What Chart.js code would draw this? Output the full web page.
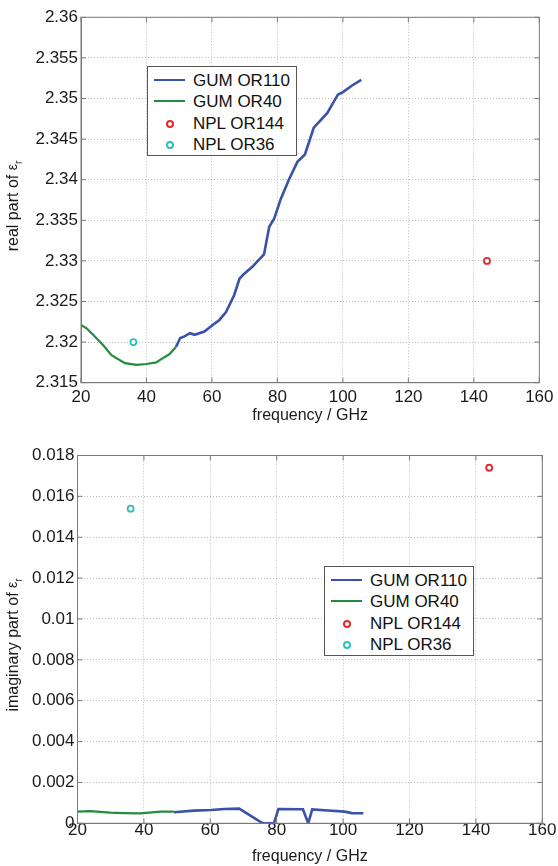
<!DOCTYPE html>
<html>
<head>
<meta charset="utf-8">
<script src="https://cdn.jsdelivr.net/npm/chart.js@4"></script>
<style>
    body { margin: 0; background: #fff; width: 558px; height: 866px; position: relative; overflow: hidden;
           font-family: "Liberation Sans", Arial, sans-serif; }
    .panel { position: absolute; left: 0; width: 558px; }
    .legend { position: absolute; width: 148px; height: 88px; border: 1px solid #555; background: #fff; }
    .row { position: absolute; left: 0; height: 21px; width: 148px; }
    .swatch { position: absolute; left: 6px; width: 31px; top: 9px; }
    .dot { position: absolute; left: 18px; top: 7px; width: 4px; height: 4px; border-radius: 50%; border: 2px solid; }
    .label { position: absolute; left: 45px; top: 0; font-size: 17px; line-height: 21px; color: #111; white-space: nowrap; }
</style>
</head>
<body>

<div class="panel" style="top:0;height:430px"><canvas id="realChart"></canvas></div>
<div class="panel" style="top:430px;height:436px"><canvas id="imagChart"></canvas></div>
<div class="legend" id="realLegend" style="left:147px;top:66px"></div>
<div class="legend" id="imagLegend" style="left:324px;top:566px"></div>

<script>
// ============ DATA ============

const seriesNames = ["GUM OR110", "GUM OR40", "NPL OR144", "NPL OR36"];

// real part (top)
const freqRealOR110 = [49, 50.3, 51.6, 53.3, 54.7, 57.7, 60.2, 62.2, 64.3, 66.8, 68.4, 69.8, 72.4, 75.9,
                       77.5, 79, 81, 83.5, 86.1, 88.4, 91.1, 95.2, 98.5, 99.7, 102.8, 105.6];
const realOR110 = [2.3194, 2.3205, 2.3207, 2.3211, 2.3209, 2.3213, 2.3221, 2.3227, 2.3237, 2.3258, 2.3278, 2.3284, 2.3293, 2.3308,
                   2.3342, 2.3352, 2.3376, 2.3400, 2.3422, 2.3431, 2.3464, 2.3482, 2.3505, 2.3507, 2.3516, 2.3523];
const freqRealOR40 = [20, 21.7, 23.7, 26.8, 29.3, 33.4, 36.9, 40, 43, 44.5, 47, 49];
const realOR40 = [2.3221, 2.3217, 2.3209, 2.3196, 2.3184, 2.3174, 2.3172, 2.3173, 2.3175, 2.3179, 2.3185, 2.3194];
const freqNPL144 = [144];
const realNPL144 = [2.330];
const freqNPL36 = [36];
const realNPL36 = [2.320];

// imaginary part (bottom)
const freqImagOR110 = [49, 55.1, 60.2, 64.2, 68.7, 75.8, 79.2, 80.5, 87.9, 89.5, 90.7, 95.5, 100.5, 102.6, 106.1];
const imagOR110 = [0.00054, 0.00062, 0.00065, 0.0007, 0.00072, 0, 0, 0.0007, 0.00069, 0, 0.00068, 0.00063, 0.00057, 0.0005, 0.00049];
const freqImagOR40 = [20, 23.8, 29.8, 34, 38.9, 45, 49];
const imagOR40 = [0.00057, 0.0006, 0.00052, 0.0005, 0.00049, 0.00057, 0.00057];
const imagNPL144 = [0.0174];
const imagNPL36 = [0.0154];

// axis ticks
const freqTicks = { min: 20, max: 160, step: 20 };
const realTicks = { min: 2.315, max: 2.36, step: 0.005 };
const imagTicks = { min: 0, max: 0.018, step: 0.002 };

// ============ STYLE ============

const FONT = '"Liberation Sans", Arial, sans-serif';
const colors = ["#3a52aa", "#248c3e", "#e8282a", "#2cbfbf"];
Chart.defaults.font.family = FONT;
Chart.defaults.color = "#1a1a1a";

function pts(xs, ys) {
    return xs.map((x, i) => ({ x: x, y: ys[i] }));
}

function makeDatasets(lineA, lineB, ptA, ptB) {
    return [
        { label: seriesNames[0], data: lineA, showLine: true, borderColor: colors[0], borderWidth: 2.6, pointRadius: 0, order: 2 },
        { label: seriesNames[1], data: lineB, showLine: true, borderColor: colors[1], borderWidth: 2.2, pointRadius: 0, order: 1 },
        { label: seriesNames[2], data: ptA, borderColor: colors[2], backgroundColor: "#fff", pointRadius: 3, borderWidth: 1.8 },
        { label: seriesNames[3], data: ptB, borderColor: colors[3], backgroundColor: "#fff", pointRadius: 3, borderWidth: 1.8 }
    ];
}

// box, inward tick marks and axis titles
const framePlugin = {
    id: "frame",
    afterDraw(chart, args, opts) {
        const { ctx, chartArea: a, scales } = chart;
        ctx.save();
        ctx.strokeStyle = "#7a7a7a";
        ctx.lineWidth = 1;
        ctx.strokeRect(a.left, a.top, a.right - a.left, a.bottom - a.top);
        ctx.beginPath();
        scales.x.ticks.forEach(t => {
            const px = scales.x.getPixelForValue(t.value);
            ctx.moveTo(px, a.bottom); ctx.lineTo(px, a.bottom - 5);
            ctx.moveTo(px, a.top); ctx.lineTo(px, a.top + 5);
        });
        scales.y.ticks.forEach(t => {
            const py = scales.y.getPixelForValue(t.value);
            ctx.moveTo(a.left, py); ctx.lineTo(a.left + 5, py);
            ctx.moveTo(a.right, py); ctx.lineTo(a.right - 5, py);
        });
        ctx.stroke();

        // x title
        ctx.fillStyle = "#1a1a1a";
        ctx.font = "16px " + FONT;
        ctx.textAlign = "center";
        ctx.textBaseline = "middle";
        ctx.fillText(opts.xTitle, (a.left + a.right) / 2, a.bottom + 33);

        // y title with epsilon subscript r
        ctx.translate(14, opts.yCenter);
        ctx.rotate(-Math.PI / 2);
        ctx.textAlign = "left";
        const wMain = ctx.measureText(opts.yTitle).width;
        ctx.font = "14px " + FONT;
        const wEps = ctx.measureText("ε").width;
        ctx.font = "10px " + FONT;
        const wR = ctx.measureText("r").width;
        let x0 = -(wMain + wEps + wR) / 2;
        ctx.font = "16px " + FONT;
        ctx.fillText(opts.yTitle, x0, 0);
        ctx.font = "14px " + FONT;
        ctx.fillText("ε", x0 + wMain, -1);
        ctx.font = "10px " + FONT;
        ctx.fillText("r", x0 + wMain + wEps, 5);
        ctx.restore();
    }
};

function makeChart(canvasId, datasets, yRange, cfg) {
    return new Chart(document.getElementById(canvasId), {
        type: "scatter",
        data: { datasets },
        options: {
            responsive: true,
            maintainAspectRatio: false,
            animation: false,
            layout: { padding: cfg.padding },
            plugins: {
                legend: { display: false },
                tooltip: { enabled: false },
                frame: cfg.frame
            },
            elements: { line: { tension: 0 } },
            scales: {
                x: {
                    type: "linear",
                    min: freqTicks.min,
                    max: freqTicks.max,
                    afterFit: s => { s.height = cfg.xHeight; },
                    grid: { color: "#bdbdbd", drawTicks: false },
                    border: { color: "#7a7a7a", dash: [1, 2] },
                    ticks: { stepSize: freqTicks.step, padding: cfg.xPad, autoSkip: false, maxRotation: 0,
                             font: { size: 17 }, color: "#1a1a1a" }
                },
                y: {
                    type: "linear",
                    min: yRange.min,
                    max: yRange.max,
                    afterFit: s => { s.width = cfg.yWidth; },
                    grid: { color: "#bdbdbd", drawTicks: false },
                    border: { color: "#7a7a7a", dash: [1, 2] },
                    ticks: { stepSize: yRange.step, padding: 3, autoSkip: false, font: { size: 17 }, color: "#1a1a1a",
                             callback: v => String(+v.toFixed(4)) }
                }
            }
        },
        plugins: [framePlugin]
    });
}

const realChart = makeChart("realChart",
    makeDatasets(pts(freqRealOR110, realOR110), pts(freqRealOR40, realOR40), pts(freqNPL144, realNPL144), pts(freqNPL36, realNPL36)),
    realTicks,
    { padding: { top: 17.3, right: 16, left: 0, bottom: 0 }, xHeight: 47.3, yWidth: 81, xPad: 4.5,
      frame: { xTitle: "frequency / GHz", yTitle: "real part of ", yCenter: 206 } });

const imagChart = makeChart("imagChart",
    makeDatasets(pts(freqImagOR110, imagOR110), pts(freqImagOR40, imagOR40), pts(freqNPL144, imagNPL144), pts(freqNPL36, imagNPL36)),
    imagTicks,
    { padding: { top: 25.5, right: 15.7, left: 0, bottom: 0 }, xHeight: 42.7, yWidth: 77.5, xPad: -3,
      frame: { xTitle: "frequency / GHz", yTitle: "imaginary part of ", yCenter: 215 } });

// ============ LEGENDS ============

function buildLegend(el, chart) {
    chart.data.datasets.forEach((ds, i) => {
        const row = document.createElement("div");
        row.className = "row";
        row.style.top = (2.5 + i * 21.5) + "px";
        const mark = document.createElement("div");
        if (ds.showLine) {
            mark.className = "swatch";
            mark.style.borderTop = ds.borderWidth + "px solid " + ds.borderColor;
        } else {
            mark.className = "dot";
            mark.style.borderColor = ds.borderColor;
        }
        const label = document.createElement("div");
        label.className = "label";
        label.textContent = ds.label;
        row.appendChild(mark);
        row.appendChild(label);
        el.appendChild(row);
    });
}

buildLegend(document.getElementById("realLegend"), realChart);
buildLegend(document.getElementById("imagLegend"), imagChart);
</script>
</body>
</html>
